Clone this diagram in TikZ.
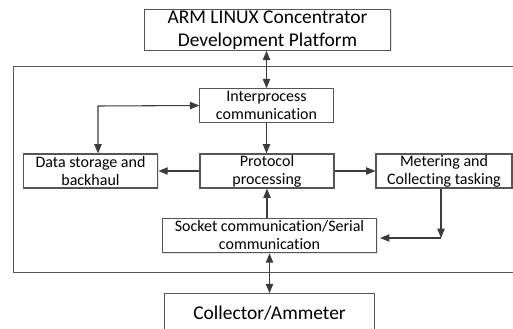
\documentclass[tikz,border=0pt]{standalone}
\usepackage{fontspec}
\setmainfont[Ligatures=NoCommon]{Carlito}
\usetikzlibrary{arrows.meta,shadows}

\definecolor{edgegray}{RGB}{85,85,85}
\definecolor{arrowgray}{RGB}{60,60,60}
\tikzset{
  blk/.style={draw=edgegray, line width=0.8pt, fill=white, align=center, inner sep=0.75pt,
    drop shadow={opacity=0.2, shadow xshift=0.8pt, shadow yshift=-0.8pt},
    font=\fontsize{12}{13.5}\selectfont},
  bigblk/.style={blk, font=\fontsize{14.6}{17}\selectfont},
  flow/.style={draw=arrowgray, line width=0.8pt, -{Triangle[length=7pt,width=5.5pt]}},
  flow2/.style={flow, {Triangle[length=7pt,width=5.5pt]}-{Triangle[length=7pt,width=5.5pt]}},
}

\begin{document}
\begin{tikzpicture}[x=0.75pt,y=0.75pt,yscale=-1,xscale=1]
\clip (0,0) rectangle (513,328);
\useasboundingbox (0,0) rectangle (513,328);

%Outer frame
\draw [draw=edgegray, line width=0.75pt] (13,67) rectangle (520,272);

% Text Node
\node [bigblk, minimum width=185pt, minimum height=28.5pt] (platform) at (267.5,30) {ARM LINUX Concentrator\\Development Platform};
% Text Node
\node [blk, minimum width=100pt, minimum height=25pt] (ipc) at (266.5,105.5) {Interprocess\\communication};
% Text Node
\node [blk, minimum width=100.5pt, minimum height=25.5pt] (proto) at (267,171) {Protocol\\processing};
% Text Node
\node [blk, minimum width=101pt, minimum height=25.5pt] (store) at (90.5,171) {Data storage and\\backhaul};
% Text Node
\node [blk, minimum width=102pt, minimum height=25.5pt] (meter) at (444,171) {Metering and\\Collecting tasking};
% Text Node
\node [blk, minimum width=161pt, minimum height=26pt] (sock) at (269.5,235.5) {Socket communication/Serial\\communication};
% Text Node
\node [bigblk, minimum width=157pt, minimum height=29pt] (coll) at (269.5,313) {Collector/Ammeter};

\coordinate (loop) at (98,106);
\coordinate (turn) at (441,238);

%Straight Lines
\draw [flow2] (platform.south -| ipc.north) -- (ipc.north);
\draw [flow] (ipc.south) -- (ipc.south |- proto.north);
\draw [flow2] (ipc.west) -- (loop) -- (loop |- store.north);
\draw [flow] (proto.west) -- (store.east);
\draw [flow] (proto.east) -- (meter.west);
\draw [flow] (proto.south |- sock.north) -- (proto.south);
\draw [flow] (turn |- meter.south) -- (turn);
\draw [flow] (turn) -- ([xshift=2pt]turn -| sock.east);
\draw [flow2] (sock.south) -- (sock.south |- coll.north);

\end{tikzpicture}
\end{document}
